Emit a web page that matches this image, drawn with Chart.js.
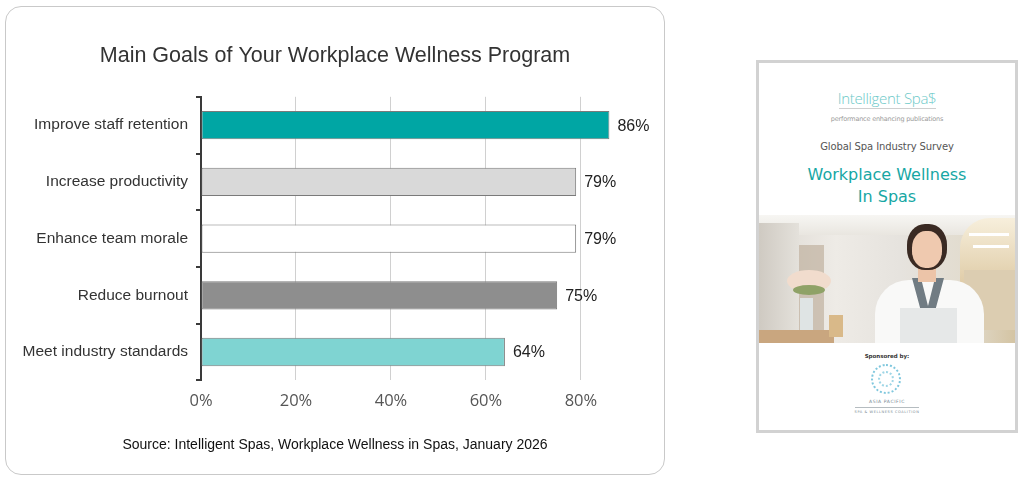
<!DOCTYPE html>
<html>
<head>
<meta charset="utf-8">
<script src="https://cdn.jsdelivr.net/npm/chart.js@4.4.1/dist/chart.umd.min.js"></script>
<style>
  body { margin:0; width:1024px; height:482px; background:#fff; position:relative; overflow:hidden; font-family:"Liberation Sans", Arial, sans-serif; }
  #box { position:absolute; left:5px; top:6px; width:658px; height:467px; border:1.5px solid #c9c9c9; border-radius:16px; }
  #box canvas { display:block; }
  #cover { position:absolute; left:756px; top:60px; width:256px; height:367px; border:3px solid #d2d2d2; background:#fff; font-family:"DejaVu Sans", Verdana, sans-serif; text-align:center; }
  .brand { position:absolute; top:25px; width:100%; font-family:"Open Sans", sans-serif; font-weight:300; font-size:15px; color:#6dc9c8; letter-spacing:-0.3px; }
  .brandline { position:absolute; top:45px; left:80px; width:97px; height:1px; background:#cfcfcf; }
  .tag { position:absolute; top:52px; width:100%; font-size:6.5px; color:#9a9a9a; letter-spacing:-0.2px; }
  .survey { position:absolute; top:78px; width:100%; font-size:10px; color:#555; letter-spacing:-0.1px; }
  .headline { position:absolute; top:101px; width:100%; font-size:16px; line-height:22px; color:#17a7a4; }
  .photo { position:absolute; left:0; top:152px; width:256px; height:128px; overflow:hidden;
           background:linear-gradient(90deg,#dcd8d1 0%,#eeebe6 30%,#e6e3de 55%,#e2dccf 80%,#d4c4a3 100%); }
  .photo div { position:absolute; }
  .sponsor { position:absolute; top:290px; width:100%; font-size:5.5px; font-weight:bold; color:#333; }
  .ap { position:absolute; top:336px; width:100%; font-size:4.5px; color:#7a8a95; letter-spacing:0.6px; }
</style>
</head>
<body>
<div id="box"><canvas id="goalsChart" width="658" height="467"></canvas></div>

<div id="cover">
  <div class="brand">Intelligent Spa$</div>
  <div class="brandline"></div>
  <div class="tag">performance enhancing publications</div>
  <div class="survey">Global Spa Industry Survey</div>
  <div class="headline">Workplace Wellness<br>In Spas</div>
  <div class="photo">
    <div style="left:0;top:0;width:256px;height:20px;background:linear-gradient(180deg,#f7f6f3,#e9e6e0);"></div>
    <div style="left:0;top:8px;width:40px;height:110px;background:linear-gradient(90deg,#cfcac2,#e4e1db);"></div>
    <div style="left:40px;top:30px;width:25px;height:95px;background:#b9a895;opacity:0.6;"></div>
    <div style="left:201px;top:3px;width:55px;height:75px;border-radius:30px 0 0 0;background:linear-gradient(180deg,#f7efdc,#dcc7a0);"></div>
    <div style="left:210px;top:18px;width:40px;height:3px;background:#ffffff;"></div>
    <div style="left:214px;top:30px;width:36px;height:3px;background:#ffffff;"></div>
    <div style="left:205px;top:55px;width:51px;height:60px;background:#dccdb1;"></div>
    <div style="left:0;top:115px;width:75px;height:13px;background:#c9a67f;"></div>
    <div style="left:28px;top:55px;width:44px;height:22px;border-radius:50%;background:#f1dccd;"></div>
    <div style="left:34px;top:70px;width:32px;height:10px;border-radius:50%;background:#8fa267;"></div>
    <div style="left:41px;top:83px;width:13px;height:32px;background:#dfe4e4;"></div>
    <div style="left:70px;top:100px;width:14px;height:22px;background:#d9b989;"></div>
    <div style="left:116px;top:65px;width:109px;height:70px;border-radius:34px 34px 0 0;background:#f9f9f8;"></div>
    <div style="left:153px;top:63px;width:32px;height:45px;background:#717c83;clip-path:polygon(0 0,28% 0,50% 62%,72% 0,100% 0,62% 100%,38% 100%);"></div>
    <div style="left:159px;top:47px;width:18px;height:20px;background:#ecc4a8;"></div>
    <div style="left:148px;top:9px;width:40px;height:46px;border-radius:45%;background:#3a2a23;"></div>
    <div style="left:153px;top:16px;width:30px;height:37px;border-radius:45%;background:#efc9af;"></div>
    <div style="left:141px;top:93px;width:57px;height:36px;background:#e6e8e8;"></div>
  </div>
  <div class="sponsor">Sponsored by:</div>
  <div style="position:absolute;left:112px;top:301px;width:26px;height:26px;border-radius:50%;border:2px dotted #7fc7dd;"></div>
  <div style="position:absolute;left:119px;top:308px;width:12px;height:12px;border-radius:50%;border:2px dotted #9fd6e6;"></div>
  <div class="ap">ASIA PACIFIC</div>
  <div style="position:absolute;left:96px;top:344px;width:64px;height:1px;background:#b5bcc0;"></div>
  <div class="ap" style="top:347px;font-size:3.5px;">SPA &amp; WELLNESS COALITION</div>
</div>

<script>
const categories = ['Improve staff retention', 'Increase productivity', 'Enhance team morale', 'Reduce burnout', 'Meet industry standards'];
const shares = [86, 79, 79, 75, 64];
const barColors = ['#00a6a4', '#d9d9d9', '#ffffff', '#8e8e8e', '#7fd4d2'];
const tickValues = [0, 20, 40, 60, 80];

// value labels after bars
const valueLabels = {
    id: 'valueLabels',
    afterDatasetsDraw(chart) {
        const { ctx } = chart;
        ctx.save();
        ctx.font = '16px "Liberation Sans", Arial, sans-serif';
        ctx.fillStyle = '#222';
        ctx.textAlign = 'left';
        ctx.textBaseline = 'middle';
        chart.getDatasetMeta(0).data.forEach((bar, i) => {
            ctx.fillText(shares[i] + '%', bar.x + 8, bar.y + 1);
        });
        ctx.restore();
    }
};

const config = {
    type: 'bar',
    data: {
        labels: categories,
        datasets: [{
            data: shares,
            backgroundColor: barColors,
            borderColor: '#7a7a7a',
            borderWidth: 1,
            borderSkipped: false,
            categoryPercentage: 1,
            barPercentage: 0.5
        }]
    },
    options: {
        responsive: false,
        animation: false,
        indexAxis: 'y',
        layout: { padding: 0 },
        plugins: {
            legend: { display: false },
            tooltip: { enabled: false },
            title: {
                display: true,
                text: 'Main Goals of Your Workplace Wellness Program',
                color: '#333',
                font: { family: '"Liberation Sans", Arial, sans-serif', size: 21.5, weight: 'normal' },
                padding: { top: 36, bottom: 28 }
            },
            subtitle: {
                display: true,
                position: 'bottom',
                text: 'Source: Intelligent Spas, Workplace Wellness in Spas, January 2026',
                color: '#111',
                font: { family: '"Liberation Sans", Arial, sans-serif', size: 14 },
                padding: { top: 15, bottom: 20 }
            }
        },
        scales: {
            x: {
                min: 0,
                max: 97.5,
                afterBuildTicks: axis => { axis.ticks = tickValues.map(v => ({ value: v })); },
                border: { display: false },
                grid: {
                    drawTicks: false,
                    color: ctx => ctx.tick && ctx.tick.value === 0 ? 'rgba(0,0,0,0)' : '#d0d0d0'
                },
                ticks: {
                    padding: 11,
                    color: '#555',
                    font: { family: '"Open Sans", sans-serif', size: 16.5 },
                    callback: v => v + '%'
                }
            },
            y: {
                afterFit: scale => { scale.width = 195; },
                border: { display: true, color: '#3a3a3a', width: 2 },
                grid: {
                    drawOnChartArea: false,
                    color: '#3a3a3a',
                    lineWidth: 2,
                    tickLength: 5
                },
                ticks: {
                    padding: 8,
                    color: '#333',
                    font: { family: '"Liberation Sans", Arial, sans-serif', size: 15.5 }
                }
            }
        }
    },
    plugins: [valueLabels]
};

const goalsChart = new Chart(document.getElementById('goalsChart'), config);
</script>
</body>
</html>
